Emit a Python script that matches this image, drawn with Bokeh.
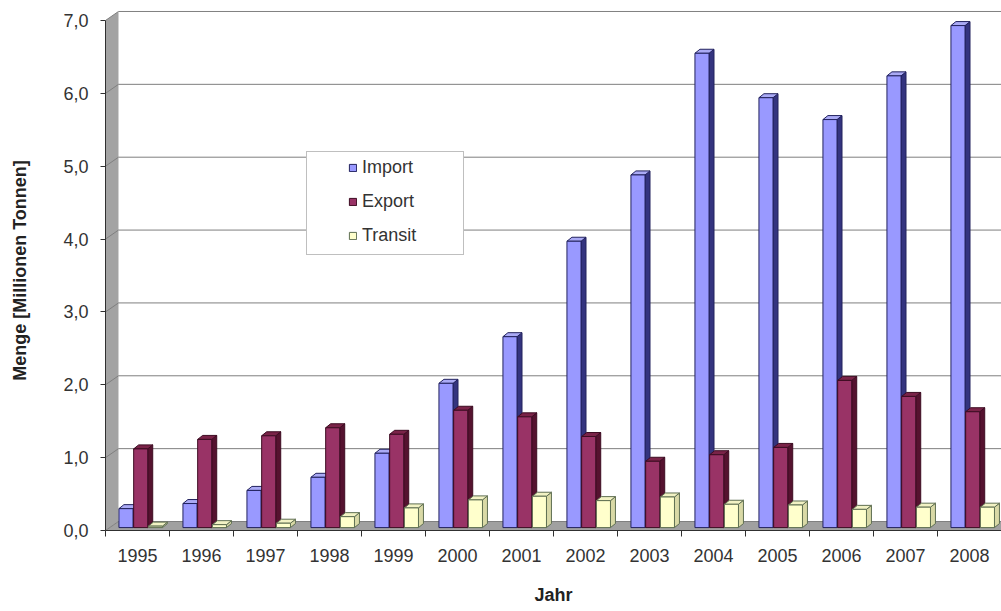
import numpy as np
from bokeh.plotting import figure
from bokeh.models import (Range1d, LinearAxis, FixedTicker,
                          CustomJSTickFormatter, Legend, LegendItem)
from bokeh.embed import file_html
from bokeh.resources import INLINE

# ---------------- data ----------------
years = [str(y) for y in range(1995, 2009)]
import_vals = [0.26, 0.33, 0.51, 0.69, 1.02, 1.98, 2.62, 3.93, 4.84, 6.51, 5.90, 5.60, 6.20, 6.89]
export_vals = [1.08, 1.21, 1.26, 1.37, 1.28, 1.61, 1.52, 1.25, 0.91, 1.00, 1.10, 2.02, 1.80, 1.59]
transit_vals = [0.02, 0.04, 0.06, 0.15, 0.27, 0.38, 0.43, 0.37, 0.42, 0.32, 0.31, 0.25, 0.28, 0.28]
series_names = ["Import", "Export", "Transit"]
y_ticks = [0, 1, 2, 3, 4, 5, 6, 7]
y_title = "Menge [Millionen Tonnen]"
x_title = "Jahr"

# ---------------- style ----------------
FONT = "Liberation Sans"
TXT = "#333333"
N = len(years)
y_top = y_ticks[-1]
wall_dx, wall_dy = 0.203, 0.1235     # 3D depth of the back wall (category units, value units)
bar_w = 0.22
bar_offsets = [-0.18, 0.05, 0.28]
bar_dx, bar_dy = 0.078, 0.055        # 3D depth of the bars
base = 0.04
styles = [
    dict(front="#9999ff", side="#34347f", top="#aaaaf5", line="#22225e"),
    dict(front="#993366", side="#55122f", top="#7a2348", line="#3d0c22"),
    dict(front="#ffffcc", side="#d9d9a6", top="#f2f2c4", line="#5f6f52"),
]

p = figure(width=1001, height=611,
           x_range=Range1d(0, N), y_range=Range1d(0, y_top + 0.137),
           x_axis_location=None, y_axis_location=None,
           output_backend="svg", toolbar_location=None,
           min_border_left=105, min_border_right=0, min_border_top=10, min_border_bottom=81)
p.outline_line_color = None
p.background_fill_color = "white"
p.border_fill_color = "white"
for g in p.grid:
    g.visible = False

centers = np.arange(N) + 0.5

# side wall and floor
p.patch(x=[0, 0, wall_dx, wall_dx], y=[0, y_top, y_top + wall_dy, wall_dy],
        fill_color="#a3a3a3", line_color=None)
p.patch(x=[0, wall_dx, N + wall_dx, N], y=[0, wall_dy, wall_dy, 0],
        fill_color="#a0a0a0", line_color=None)

# back-wall gridlines
p.multi_line(xs=[[0, wall_dx, N + wall_dx] for v in y_ticks],
             ys=[[v, v + wall_dy, v + wall_dy] for v in y_ticks],
             line_color="#7f7f7f", line_width=1)

# 3D bars
fronts = []
for vals, off, st in zip([import_vals, export_vals, transit_vals], bar_offsets, styles):
    v = np.array(vals)
    xc = centers + off
    l = xc - bar_w / 2
    r = xc + bar_w / 2
    t = base + v
    p.patches(xs=[[ri, ri + bar_dx, ri + bar_dx, ri] for ri in r],
              ys=[[base, base + bar_dy, ti + bar_dy, ti] for ti in t],
              fill_color=st["side"], line_color=st["line"], line_width=1)
    p.patches(xs=[[li, li + bar_dx, ri + bar_dx, ri] for li, ri in zip(l, r)],
              ys=[[ti, ti + bar_dy, ti + bar_dy, ti] for ti in t],
              fill_color=st["top"], line_color=st["line"], line_width=1)
    fr = p.quad(left=l, right=r, bottom=base, top=t,
                fill_color=st["front"], line_color=st["line"], line_width=1)
    fronts.append(fr)

# y axis
yax = LinearAxis(ticker=FixedTicker(ticks=y_ticks),
                 formatter=CustomJSTickFormatter(code="return tick.toFixed(1).replace('.', ',');"),
                 bounds=(y_ticks[0], y_top),
                 axis_line_color="#303030", major_tick_line_color="#303030",
                 major_tick_out=5, major_tick_in=0, minor_tick_line_color=None,
                 major_label_standoff=12,
                 major_label_text_font=FONT, major_label_text_font_size="18px",
                 major_label_text_color=TXT,
                 axis_label=y_title, axis_label_text_font=FONT,
                 axis_label_text_font_style="bold", axis_label_text_font_size="18px",
                 axis_label_text_color="#222222", axis_label_standoff=30)
p.add_layout(yax, "left")

# x axis: category labels at centres, tick marks at category boundaries
xax = LinearAxis(ticker=FixedTicker(ticks=list(centers), minor_ticks=list(range(N + 1))),
                 formatter=CustomJSTickFormatter(args=dict(labels=years),
                                                 code="return labels[Math.floor(tick)];"),
                 axis_line_color="#303030",
                 major_tick_line_color=None, major_tick_out=6, major_tick_in=0,
                 minor_tick_line_color="#303030", minor_tick_out=6, minor_tick_in=0,
                 major_label_standoff=12,
                 major_label_text_font=FONT, major_label_text_font_size="18px",
                 major_label_text_color=TXT,
                 axis_label=x_title, axis_label_text_font=FONT,
                 axis_label_text_font_style="bold", axis_label_text_font_size="18px",
                 axis_label_text_color="#222222", axis_label_standoff=20)
p.add_layout(xax, "below")

# legend frame and legend content
box = Legend(items=[LegendItem(label=" ", renderers=[])], location=(201, 275),
             padding=0, margin=0, glyph_width=1, glyph_height=1, label_standoff=0,
             label_width=155, label_height=102, border_line_color="#808080",
             background_fill_color="white", background_fill_alpha=1.0,
             label_text_font_size="10px")
p.add_layout(box, "center")
leg = Legend(items=[LegendItem(label=n, renderers=[fr]) for n, fr in zip(series_names, fronts)],
             location=(243, 284), padding=0, margin=0, spacing=13,
             glyph_width=9, glyph_height=9, label_height=20, label_standoff=5,
             border_line_alpha=0, background_fill_alpha=0,
             label_text_font=FONT, label_text_font_size="18px", label_text_color=TXT)
p.add_layout(leg, "center")

open("out.html", "w").write(file_html(p, INLINE))
